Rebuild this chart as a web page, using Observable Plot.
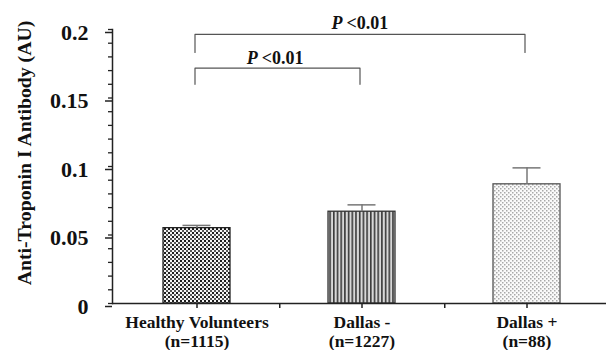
<!DOCTYPE html>
<html>
<head>
<meta charset="utf-8">
<script src="https://cdn.jsdelivr.net/npm/d3@7"></script>
<script src="https://cdn.jsdelivr.net/npm/@observablehq/plot@0.6"></script>
<style>
  html, body { margin: 0; padding: 0; background: #fff; }
</style>
</head>
<body>
<div id="chart"></div>
<script>
// ---- data ----
const categories = ["Healthy Volunteers", "Dallas -", "Dallas +"];
const sampleSizes = ["(n=1115)", "(n=1227)", "(n=88)"];
const means = [0.055, 0.067, 0.087];
const errorTops = [0.057, 0.072, 0.099];

const yTicks = [0, 0.05, 0.1, 0.15, 0.2];
const yTickLabels = ["0", "0.05", "0.1", "0.15", "0.2"];
const yMinorTicks = [0, 0.01, 0.02, 0.03, 0.04, 0.05, 0.06, 0.07, 0.08, 0.09, 0.1,
  0.11, 0.12, 0.13, 0.14, 0.15, 0.16, 0.17, 0.18, 0.19, 0.2];

const bracketFrom = ["Healthy Volunteers", "Healthy Volunteers"];
const bracketTo = ["Dallas -", "Dallas +"];
const bracketTop = [0.1718, 0.1964];
const bracketLeg = [0.160, 0.1832];
const bracketLabelY = [0.1745, 0.2007];
const bracketP = ["P", "P"];
const bracketValue = ["<0.01", "<0.01"];

const yLabel = "Anti-Troponin I Antibody (AU)";

// ---- tables built from the arrays ----
const bars = categories.map((c, i) => ({group: c, mean: means[i], top: errorTops[i]}));
const brackets = bracketFrom.map((f, i) => ({
  id: i, from: f, to: bracketTo[i], top: bracketTop[i], leg: bracketLeg[i],
  labelY: bracketLabelY[i], p: bracketP[i], value: bracketValue[i]
}));
const bracketPoints = brackets.flatMap(b => [
  {id: b.id, x: b.from, y: b.leg},
  {id: b.id, x: b.from, y: b.top},
  {id: b.id, x: b.to, y: b.top},
  {id: b.id, x: b.to, y: b.leg}
]);

// ---- layout / style ----
const W = 606, H = 350, ML = 112, MR = 0, MT = 29, MB = 47;
const xRange = [112.75, 609.25];
const step = (xRange[1] - xRange[0]) / categories.length;
const plotH = H - MT - MB;
const patternOf = {
  "Healthy Volunteers": "url(#pat-check)",
  "Dallas -": "url(#pat-stripe)",
  "Dallas +": "url(#pat-dots)"
};
const outlineOf = {"Healthy Volunteers": "#222", "Dallas -": "#333", "Dallas +": "#555"};
const serif = "'Liberation Serif', 'Times New Roman', Times, serif";
const labelShift = [-5, -3];

const textMarks = brackets.flatMap((b, i) => {
  const mid = (categories.indexOf(b.to) - categories.indexOf(b.from)) * step / 2 + labelShift[i];
  return [
    Plot.text([b], {x: "from", y: "labelY", text: "p", textAnchor: "end", lineAnchor: "bottom",
      dx: mid - 17, fontSize: 18, fontStyle: "italic", fontWeight: "bold", fill: "#111"}),
    Plot.text([b], {x: "from", y: "labelY", text: "value", textAnchor: "start", lineAnchor: "bottom",
      dx: mid - 13, fontSize: 18, fontWeight: "bold", fill: "#111"})
  ];
});

const svg = Plot.plot({
  width: W, height: H,
  marginLeft: ML, marginRight: MR, marginTop: MT, marginBottom: MB,
  style: {fontFamily: serif, fontWeight: "bold", color: "#111", background: "#fff"},
  x: {domain: categories, range: xRange, paddingInner: 0.595, paddingOuter: 0.2975, label: null},
  y: {domain: [0, 0.2], label: null},
  color: {type: "identity"},
  marks: [
    Plot.barY(bars, {x: "group", y: "mean", fill: d => patternOf[d.group],
      stroke: d => outlineOf[d.group], strokeWidth: 1.3}),
    Plot.ruleX(bars, {x: "group", y1: "mean", y2: "top", stroke: "#777", strokeWidth: 1.5}),
    Plot.tickY(bars, {x: "group", y: "top", stroke: "#777", strokeWidth: 1.5, insetLeft: 19.5, insetRight: 19.5}),
    Plot.line(bracketPoints, {x: "x", y: "y", z: "id", stroke: "#555", strokeWidth: 1.2, dx: -2}),
    ...textMarks,
    Plot.axisY({ticks: yMinorTicks, tickSize: 4, tickFormat: () => "", label: null, stroke: "#222", strokeWidth: 1.3}),
    Plot.axisY({ticks: yTicks, tickSize: 7, tickPadding: 17, dy: 3, fontSize: 22, label: null,
      stroke: "#222", strokeWidth: 1.5, fill: "#111",
      tickFormat: d => yTickLabels[yTicks.indexOf(d)]}),
    Plot.axisX({tickSize: 5, tickPadding: 6.5, fontSize: 17.5, lineHeight: 1.08, label: null,
      stroke: "#222", strokeWidth: 1.5, fill: "#111",
      tickFormat: d => d + "\n" + sampleSizes[categories.indexOf(d)]}),
    Plot.ruleX(categories.slice(0, 2), {dx: step / 2, insetTop: plotH, insetBottom: -5, stroke: "#222", strokeWidth: 1.5}),
    Plot.ruleY([0], {stroke: "#222", strokeWidth: 1.5}),
    Plot.frame({anchor: "left", stroke: "#222", strokeWidth: 1.5}),
    Plot.text([yLabel], {frameAnchor: "left", textAnchor: "middle", lineAnchor: "middle", text: d => d,
      rotate: -90, dx: -88, dy: -13.5, fontSize: 19.8, fontWeight: "bold", fill: "#111"})
  ]
});

// pattern fills
const defs = d3.select(svg).insert("defs", ":first-child");
const check = defs.append("pattern").attr("id", "pat-check").attr("patternUnits", "userSpaceOnUse")
  .attr("width", 4).attr("height", 4);
check.append("rect").attr("width", 4).attr("height", 4).attr("fill", "#f4f4f4");
check.append("rect").attr("x", 0).attr("y", 0).attr("width", 2).attr("height", 2).attr("fill", "#1c1c1c");
check.append("rect").attr("x", 2).attr("y", 2).attr("width", 2).attr("height", 2).attr("fill", "#555");

const stripe = defs.append("pattern").attr("id", "pat-stripe").attr("patternUnits", "userSpaceOnUse")
  .attr("width", 3.7).attr("height", 4);
stripe.append("rect").attr("width", 3.7).attr("height", 4).attr("fill", "#d8d8d8");
stripe.append("rect").attr("x", 0).attr("width", 1.6).attr("height", 4).attr("fill", "#3a3a3a");

const dots = defs.append("pattern").attr("id", "pat-dots").attr("patternUnits", "userSpaceOnUse")
  .attr("width", 4).attr("height", 4);
dots.append("rect").attr("width", 4).attr("height", 4).attr("fill", "#fafafa");
dots.append("rect").attr("x", 0).attr("y", 0).attr("width", 1.5).attr("height", 1.5).attr("fill", "#a8a8a8");
dots.append("rect").attr("x", 2).attr("y", 2).attr("width", 1.5).attr("height", 1.5).attr("fill", "#a8a8a8");

document.getElementById("chart").appendChild(svg);
</script>
</body>
</html>
